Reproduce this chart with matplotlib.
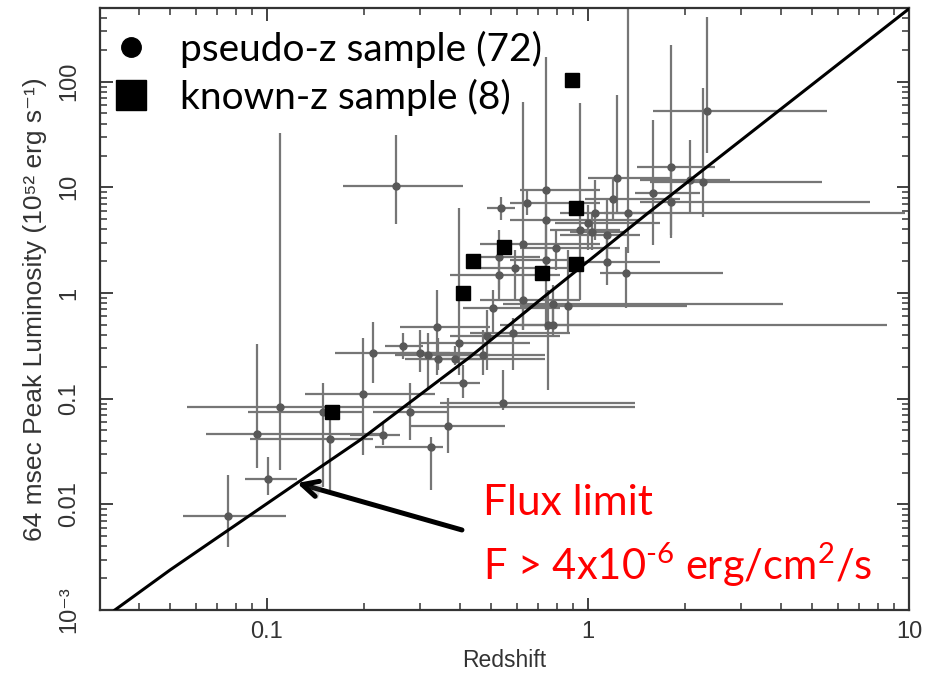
import numpy as np
import matplotlib.pyplot as plt
from matplotlib.lines import Line2D
from matplotlib.ticker import LogLocator, NullFormatter
import matplotlib.patheffects as pe

plt.rcParams['mathtext.fontset'] = 'custom'
plt.rcParams['mathtext.rm'] = 'Lato'
plt.rcParams['mathtext.it'] = 'Lato:italic'

# pseudo-z sample: redshift, luminosity (1e52 erg/s) with lower/upper bounds
z_ps = np.array([.0757, .1007, .1098, .093, .1494, .157, .199, .279, .2298, .3664,
                 .3244, .2138, .2654, .2998, .3175, .341, .3386, .3966, .385, .408,
                 .471, .4846, .506, .584, .5435, .7505, .778, .866, .2523, .536,
                 .6456, .7397, .7397, .627, .528, .528, .593, .627, .795, .944,
                 1.0, 1.051, 1.143, 1.143, 1.196, 1.231, 1.31, 1.332, 1.594, 1.814,
                 1.814, 2.28, 2.349, 2.078, .7397, 1.029, .778])
z_ps_lo = np.array([.0547, .0854, .0563, .0646, .0873, .0885, .1313, .2138, .1815, .279,
                    .217, .163, .233, .2597, .2505, .269, .2597, .2998, .2998, .346,
                    .346, .3716, .408, .429, .346, .532, .614, .614, .1725, .4846,
                    .5717, .614, .5717, .461, .429, .3716, .461, .461, .614, .762,
                    .789, .818, .818, .911, .979, 1.0, 1.09, 1.122, 1.401, 1.419,
                    1.452, 1.56, 1.594, 1.452, .5717, .878, .5435])
z_ps_hi = np.array([.1146, .124, 1.40, .2298, .199, .2138, .3337, .3638, .2597, .551,
                    .3533, .3716, .306, .4446, .4953, .461, .4953, .6597, .7346, .461,
                    .7346, .818, .818, .879, 1.401, 1.09, 8.54, 2.033, .408, .593,
                    1.09, 1.09, 1.452, 1.09, .7087, .818, .944, .944, 1.258, 1.258,
                    1.676, 9.72, 1.452, 1.676, 1.934, 1.814, 2.634, 1.56, 2.23, 2.487,
                    7.56, 5.36, 5.55, 2.77, .911, 1.314, 4.05])
L_ps = np.array([.00776, .0174, .0834, .0468, .074, .0415, .1096, .074, .0453, .0551,
                 .0349, .2735, .318, .2735, .2563, .24, .477, .336, .24, .1422,
                 .2563, .396, .722, .418, .091, .503, .503, .753, 10.3, 6.37,
                 7.11, 9.43, 4.91, 2.91, 2.19, 1.48, 1.724, .859, 2.67, 3.95,
                 4.6, 5.71, 3.54, 1.965, 7.75, 12.25, 1.546, 5.71, 8.83, 15.6,
                 7.26, 11.2, 52.7, 11.7, 2.05, 3.77, .787])
L_ps_lo = np.array([.00395, .0123, .0211, .0223, .0145, .0137, .0293, .0406, .0364, .0306,
                    .0137, .1422, .24, .1788, .1208, .1867, .1675, .1675, .2084, .1015,
                    .1675, .1867, .418, .1867, .0782, .1208, .396, .418, 4.5, 4.91,
                    5.47, 1.327, .447, .447, 1.068, .859, .859, .447, 1.651, .859,
                    2.55, 3.17, 1.965, 1.19, 4.91, 5.71, .722, 2.39, 2.85, 3.31,
                    3.54, 5.24, 21.1, 5.71, 1.327, 2.55, .447])
L_ps_hi = np.array([.019, .028, 32.7, .329, .1422, .074, .375, .1422, .0602, .1015,
                    .0434, .532, .418, .447, .418, .375, 1.068, 6.37, .318, .2084,
                    .447, .69, 1.068, .58, .1867, 1.068, .753, 2.55, 31.3, 8.1,
                    9.43, 171, 7.59, 64.2, 3.95, 2.05, 2.55, 1.651, 3.95, 62.8,
                    6.8, 11.7, 7.59, 3.54, 12.25, 74.8, 2.73, 498, 43.4, 222,
                    14.6, 87, 409, 28.1, 2.91, 5.71, 1.19])

# known-z sample
z_kn = np.array([.892, .918, .547, .438, .408, .719, .918, .159])
L_kn = np.array([103.7, 6.37, 2.73, 2.01, 1.0, 1.55, 1.88, .0748])

# flux limit curve F > 4e-6 erg/cm2/s
z_lim = np.array([.0336, .0499, .124, .195, .429, .709, 1.538, 10.0])
L_lim = np.array([1e-3, .00239, .0159, .0406, .248, .859, 5.71, 490])

fig = plt.figure(figsize=(9.25, 6.73), dpi=100)
ax = fig.add_axes([0.1081, 0.0936, 0.8746, 0.8945])

ax.errorbar(z_ps, L_ps,
            xerr=[z_ps - z_ps_lo, z_ps_hi - z_ps],
            yerr=[L_ps - L_ps_lo, L_ps_hi - L_ps],
            fmt='o', ms=5, color='#585858', ecolor='#767676',
            elinewidth=1.6, capsize=0, zorder=2)
ax.plot(z_kn, L_kn, 's', ms=10, color='black', zorder=4)
ax.plot(z_lim, L_lim, color='black', lw=2.2, zorder=3)

ax.set_xscale('log')
ax.set_yscale('log')
ax.set_xlim(0.0302, 10)
ax.set_ylim(1e-3, 498)

tick_font = {'family': ['Liberation Sans', 'DejaVu Sans'], 'size': 17, 'color': '#333333'}
ax.set_xticks([0.1, 1, 10])
ax.set_xticklabels(['0.1', '1', '10'], fontdict=tick_font)
ax.set_yticks([1e-3, 1e-2, 0.1, 1, 10, 100])
ax.set_yticklabels(['10⁻³', '0.01', '0.1', '1', '10', '100'], fontdict=tick_font,
                   rotation=90, va='center')
ax.xaxis.set_minor_locator(LogLocator(base=10, subs=np.arange(2, 10)))
ax.yaxis.set_minor_locator(LogLocator(base=10, subs=np.arange(2, 10)))
ax.xaxis.set_minor_formatter(NullFormatter())
ax.yaxis.set_minor_formatter(NullFormatter())
ax.tick_params(which='both', direction='in', top=True, right=True, color='#333333')
ax.tick_params(which='major', length=9, width=1.3)
ax.tick_params(which='minor', length=5, width=1.1)
ax.tick_params(axis='x', which='major', pad=8)
ax.tick_params(axis='y', which='major', pad=14)
for s in ax.spines.values():
    s.set_color('#333333')
    s.set_linewidth(1.6)

ax.set_xlabel('Redshift', family=['Liberation Sans', 'DejaVu Sans'], size=16.5,
              color='#333333', labelpad=4)
ax.set_ylabel('64 msec Peak Luminosity (10⁵² erg s⁻¹)',
              family=['Liberation Sans', 'DejaVu Sans'], size=19, color='#333333',
              labelpad=8)

handles = [Line2D([], [], marker='o', ls='', color='black', ms=14),
           Line2D([], [], marker='s', ls='', color='black', ms=21)]
ax.legend(handles, ['pseudo-z sample (72)', 'known-z sample (8)'],
          loc='upper left', bbox_to_anchor=(0.0, 0.988), frameon=False,
          prop={'family': 'Lato', 'size': 28},
          handletextpad=0.85, labelspacing=0.28, borderaxespad=0, borderpad=0.4,
          handlelength=0.8)

ax.annotate('', xy=(0.124, 0.0159), xytext=(0.405, 0.00572),
            arrowprops=dict(arrowstyle='->', lw=3.6, color='black',
                            mutation_scale=28, shrinkA=0, shrinkB=0,
                            path_effects=[pe.SimplePatchShadow(offset=(2, -2), alpha=0.25),
                                          pe.Normal()]),
            zorder=5)
ax.text(0.473, 0.178, 'Flux limit', transform=ax.transAxes, color='red',
        family='Lato', size=30.5, va='center', ha='left')
ax.text(0.473, 0.075, r'F > 4x10$^{\text{-6}}$ erg/cm$^{2}$/s', transform=ax.transAxes,
        color='red', family='Lato', size=30, va='center', ha='left')

fig.savefig('out.png', dpi=100)
